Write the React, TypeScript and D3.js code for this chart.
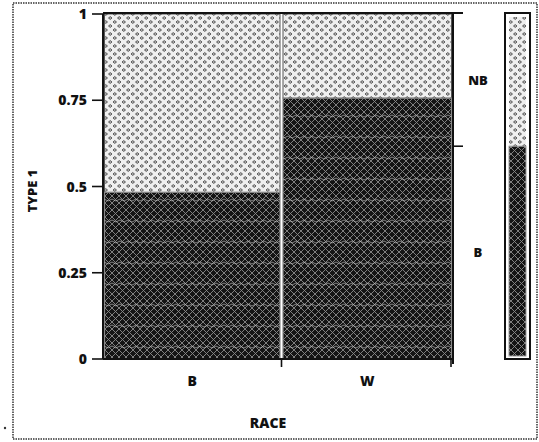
import React from "react";
import * as d3 from "d3";

// mosaic plot: TYPE 1 by RACE
const races = ["B", "W"];
const raceShare = [0.51, 0.49];
const typeLevels = ["B", "NB"];
const shareTypeB = [0.483, 0.756];
const yTicks = [0, 0.25, 0.5, 0.75, 1];
const yTickLabels = ["0", "0.25", "0.5", "0.75", "1"];

const W = 539, H = 442;
const font = "'Open Sans', 'DejaVu Sans', sans-serif";

export default function App() {
  const y = d3.scaleLinear().domain([0, 1]).range([359, 14]);
  const x = d3.scaleLinear().domain([0, 1]).range([103, 453]);

  // cumulative column positions
  const cum = d3.cumsum(raceShare);
  const cols = races.map((r, i) => ({
    race: r,
    x0: x(i === 0 ? 0 : cum[i - 1]),
    x1: x(cum[i]),
    pB: shareTypeB[i],
  }));
  const marginB = d3.sum(raceShare.map((s, i) => s * shareTypeB[i]));
  const segs = [
    { label: typeLevels[0], lo: 0, hi: marginB },
    { label: typeLevels[1], lo: marginB, hi: 1 },
  ];

  const gap = 1.5;

  return (
    <svg width={W} height={H} style={{ position: "absolute", left: 0, top: 0, background: "#fff" }}
      fontFamily={font} fontWeight={800}>
      <defs>
        <pattern id="dark" width={7} height={7} patternUnits="userSpaceOnUse">
          <rect width={7} height={7} fill="#141414" />
          <path d="M0,0 L7,7 M7,0 L0,7" stroke="#8a8a8a" strokeWidth={0.9} />
        </pattern>
        <pattern id="streak" width={8} height={21} patternUnits="userSpaceOnUse">
          <path d="M0,10 L4,12 L8,10" stroke="#ddd" strokeWidth={1} fill="none" opacity={0.55} />
        </pattern>
        <pattern id="light" width={9} height={8} patternUnits="userSpaceOnUse">
          <rect width={9} height={8} fill="#efefef" />
          <path d="M2.25,0.6 L4,2 L2.25,3.4 L0.5,2 Z M6.75,4.6 L8.5,6 L6.75,7.4 L5,6 Z"
            fill="#bdbdbd" stroke="#4a4a4a" strokeWidth={0.9} />
        </pattern>
      </defs>

      {/* outer dotted frame */}
      <rect x={13} y={3} width={524} height={436} fill="none" stroke="#333" strokeWidth={1.5}
        strokeDasharray="1.5 1" />
      <circle cx={5} cy={428} r={1.2} fill="#333" />

      {/* tiles */}
      {cols.map((c) => (
        <g key={c.race}>
          <rect x={c.x0 + gap} y={y(1)} width={c.x1 - c.x0 - 2 * gap} height={y(c.pB) - y(1)}
            fill="url(#light)" stroke="#444" strokeWidth={0.9} />
          <rect x={c.x0 + gap} y={y(c.pB)} width={c.x1 - c.x0 - 2 * gap} height={y(0) - y(c.pB)}
            fill="url(#dark)" stroke="#888" strokeWidth={1.2} />
          <rect x={c.x0 + gap} y={y(c.pB)} width={c.x1 - c.x0 - 2 * gap} height={y(0) - y(c.pB)}
            fill="url(#streak)" />
        </g>
      ))}

      {/* left axis */}
      <line x1={103} x2={103} y1={y(1)} y2={y(0)} stroke="#111" strokeWidth={2} />
      {yTicks.map((t, i) => (
        <g key={t}>
          <line x1={92} x2={103} y1={y(t)} y2={y(t)} stroke="#111" strokeWidth={1.6} />
          <text x={87} y={y(t)} dy="0.36em" textAnchor="end" fontSize={14} fill="#111">
            {yTickLabels[i]}
          </text>
        </g>
      ))}
      {/* top line */}
      <line x1={103} x2={463} y1={y(1) - 1} y2={y(1) - 1} stroke="#111" strokeWidth={2} />
      {/* bottom axis */}
      <line x1={103} x2={453} y1={y(0)} y2={y(0)} stroke="#111" strokeWidth={2} />
      {cols.map((c) => (
        <g key={"t" + c.race}>
          <line x1={c.x1 - (c.x1 > 450 ? 2 : 0)} x2={c.x1 - (c.x1 > 450 ? 2 : 0)} y1={y(0)} y2={y(0) + 8}
            stroke="#111" strokeWidth={1.6} />
          <text x={(c.x0 + c.x1) / 2} y={386} textAnchor="middle" fontSize={14} fill="#111">{c.race}</text>
        </g>
      ))}
      <text x={268} y={428} textAnchor="middle" fontSize={14} fill="#111">RACE</text>
      <text transform={`translate(37,${191}) rotate(-90)`} textAnchor="middle" fontSize={13} fill="#111">
        TYPE 1
      </text>

      {/* right marginal axis */}
      <line x1={453} x2={453} y1={y(1) - 1} y2={y(0) + 5} stroke="#111" strokeWidth={2} />
      <line x1={453} x2={463} y1={y(marginB)} y2={y(marginB)} stroke="#111" strokeWidth={1.6} />
      {segs.map((s) => (
        <text key={s.label} x={478} y={(y(s.lo) + y(s.hi)) / 2} dy="0.36em" textAnchor="middle"
          fontSize={13} fill="#111">{s.label}</text>
      ))}

      {/* marginal bar */}
      <rect x={505} y={y(1) - 1} width={25} height={y(0) - y(1) + 1} fill="#fff" stroke="#111" strokeWidth={2} />
      <rect x={509} y={y(1) + 3} width={17} height={y(marginB) - y(1) - 3} fill="url(#light)" />
      <rect x={509} y={y(marginB)} width={17} height={y(0) - y(marginB) - 3} fill="url(#dark)"
        stroke="#999" strokeWidth={1} />
    </svg>
  );
}
